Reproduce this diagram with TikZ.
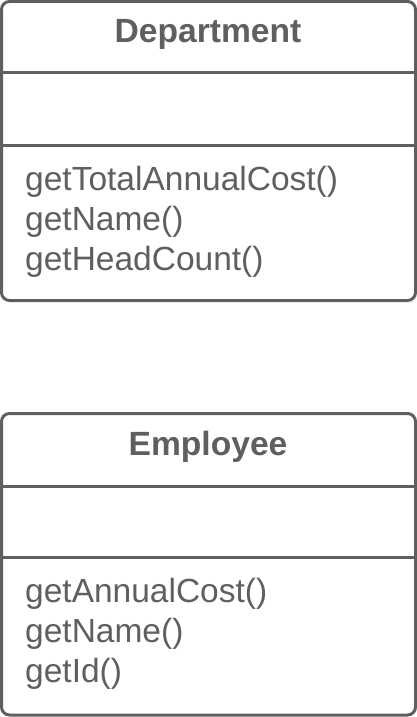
\documentclass[tikz,border=0pt]{standalone}
\usepackage{fontspec}
\setmainfont{Liberation Sans}
\definecolor{umlgray}{HTML}{5F5F5F}
\begin{document}
\begin{tikzpicture}[x=1pt,y=-1pt,
  classbox/.style={draw=umlgray,line width=3pt,rounded corners=8pt,fill=white},
  sep/.style={draw=umlgray,line width=3pt},
  title/.style={anchor=base,inner sep=0pt,text=umlgray,font=\fontsize{33.6}{38}\selectfont\bfseries},
  meth/.style={anchor=base west,inner sep=0pt,text=umlgray,font=\fontsize{33.5}{38}\selectfont}]
\useasboundingbox (0,0) rectangle (417,717);
% Department
\draw[classbox] (1.5,1.5) rectangle (415.5,300.5);
\coordinate (d1l) at (1.5,72.5); \coordinate (d1r) at (415.5,72.5);
\coordinate (d2l) at (1.5,145); \coordinate (d2r) at (415.5,145);
\draw[sep] (d1l) -- (d1r);
\draw[sep] (d2l) -- (d2r);
\node[title] (dtitle) at (208,43) {Department};
\node[meth] (dm1) at (25,190) {getTotalAnnualCost()};
\node[meth] (dm2) at (25,230) {getName()};
\node[meth] (dm3) at (25,270) {getHeadCount()};
% Employee
\draw[classbox] (1.5,413.5) rectangle (415.5,715);
\coordinate (e1l) at (1.5,486); \coordinate (e1r) at (415.5,486);
\coordinate (e2l) at (1.5,557); \coordinate (e2r) at (415.5,557);
\draw[sep] (e1l) -- (e1r);
\draw[sep] (e2l) -- (e2r);
\node[title] (etitle) at (208,455) {Employee};
\node[meth] (em1) at (25,602) {getAnnualCost()};
\node[meth] (em2) at (25,642) {getName()};
\node[meth] (em3) at (25,682) {getId()};
\end{tikzpicture}
\end{document}
